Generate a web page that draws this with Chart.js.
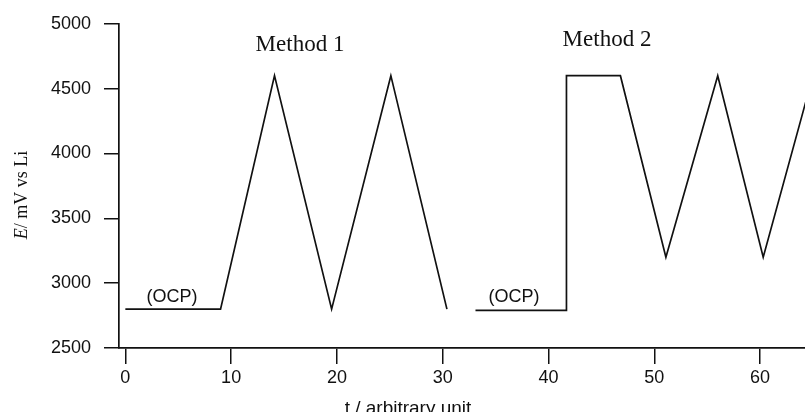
<!DOCTYPE html>
<html>
<head>
<meta charset="utf-8">
<script src="https://cdn.jsdelivr.net/npm/chart.js@4"></script>
<style>
  html, body { margin: 0; padding: 0; background: #fff; }
  #wrap { width: 805px; height: 412px; }
</style>
</head>
<body>
<div id="wrap"><canvas id="chart"></canvas></div>
<script>
// t / arbitrary unit and E / mV vs Li
const method1T = [0, 9.0, 14.1, 19.5, 25.1, 30.4];
const method1E = [2800, 2800, 4600, 2800, 4600, 2800];

const method2T = [33.1, 41.7, 41.7, 46.8, 51.1, 56.0, 60.3, 65.0];
const method2E = [2790, 2790, 4600, 4600, 3200, 4600, 3200, 4600];

const xTicks = [0, 10, 20, 30, 40, 50, 60];
const yTicks = [2500, 3000, 3500, 4000, 4500, 5000];

const textLabels = ['Method 1', 'Method 2', '(OCP)', '(OCP)'];
const xTitle = 't / arbitrary unit';

const INK = '#111';
const SANS = '"Liberation Sans", Arial, sans-serif';
const SERIF = '"Liberation Serif", "Times New Roman", serif';

const toPoints = (ts, es) => ts.map((t, i) => ({ x: t, y: es[i] }));

// white page, then free text drawn on top of the chart
const paperPlugin = {
    id: 'paper',
    beforeDraw(chart) {
        const ctx = chart.ctx;
        ctx.save();
        ctx.fillStyle = '#fff';
        ctx.fillRect(0, 0, chart.width, chart.height);
        ctx.restore();
    }
};

const textPlugin = {
    id: 'freeText',
    afterDraw(chart) {
        const ctx = chart.ctx;
        ctx.save();
        ctx.fillStyle = INK;
        ctx.textBaseline = 'middle';
        ctx.textAlign = 'center';

        ctx.font = '23px ' + SERIF;
        ctx.fillText(textLabels[0], 300, 45);
        ctx.fillText(textLabels[1], 607, 40);

        ctx.font = '18px ' + SANS;
        ctx.fillText(textLabels[2], 172, 297);
        ctx.fillText(textLabels[3], 514, 297);

        // x axis title, cut by the bottom edge like the original
        ctx.font = '19px ' + SANS;
        ctx.textBaseline = 'alphabetic';
        ctx.fillText(xTitle, 408, 414);

        // y axis title, rotated, italic E
        ctx.translate(27, 195);
        ctx.rotate(-Math.PI / 2);
        ctx.textAlign = 'left';
        const italic = 'italic 18px ' + SERIF;
        const upright = '18px ' + SERIF;
        ctx.font = italic;
        const wE = ctx.measureText('E').width;
        ctx.font = upright;
        const rest = '/ mV vs Li';
        const wR = ctx.measureText(rest).width;
        const start = -(wE + wR) / 2;
        ctx.font = italic;
        ctx.fillText('E', start, 0);
        ctx.font = upright;
        ctx.fillText(rest, start + wE, 0);
        ctx.restore();
    }
};

const lineStyle = { showLine: true, borderColor: INK, backgroundColor: INK, borderWidth: 1.7, pointRadius: 0, tension: 0 };

new Chart(document.getElementById('chart'), {
    type: 'scatter',
    data: {
        datasets: [
            { label: 'Method 1', data: toPoints(method1T, method1E), ...lineStyle },
            { label: 'Method 2', data: toPoints(method2T, method2E), ...lineStyle }
        ]
    },
    options: {
        responsive: true,
        maintainAspectRatio: false,
        animation: false,
        layout: { padding: { top: 15, right: 0, left: 0, bottom: 0 } },
        plugins: {
            legend: { display: false },
            tooltip: { enabled: false }
        },
        scales: {
            x: {
                type: 'linear',
                min: -0.6,
                max: 64.25,
                afterFit(scale) { scale.height = 64; },
                afterBuildTicks(scale) { scale.ticks = xTicks.map(v => ({ value: v })); },
                border: { display: true, color: INK, width: 1.7 },
                grid: { drawOnChartArea: false, drawTicks: true, tickLength: 16, color: INK, lineWidth: 1.5 },
                ticks: { includeBounds: false, padding: 3, color: INK, font: { family: SANS, size: 18 }, callback: v => String(v) }
            },
            y: {
                min: 2500,
                max: 5000,
                afterFit(scale) { scale.width = 119; },
                afterBuildTicks(scale) { scale.ticks = yTicks.map(v => ({ value: v })); },
                border: { display: true, color: INK, width: 1.7 },
                grid: { drawOnChartArea: false, drawTicks: true, tickLength: 15, color: INK, lineWidth: 1.5 },
                ticks: { padding: 13, color: INK, font: { family: SANS, size: 18 }, callback: v => String(v) }
            }
        }
    },
    plugins: [paperPlugin, textPlugin]
});
</script>
</body>
</html>
